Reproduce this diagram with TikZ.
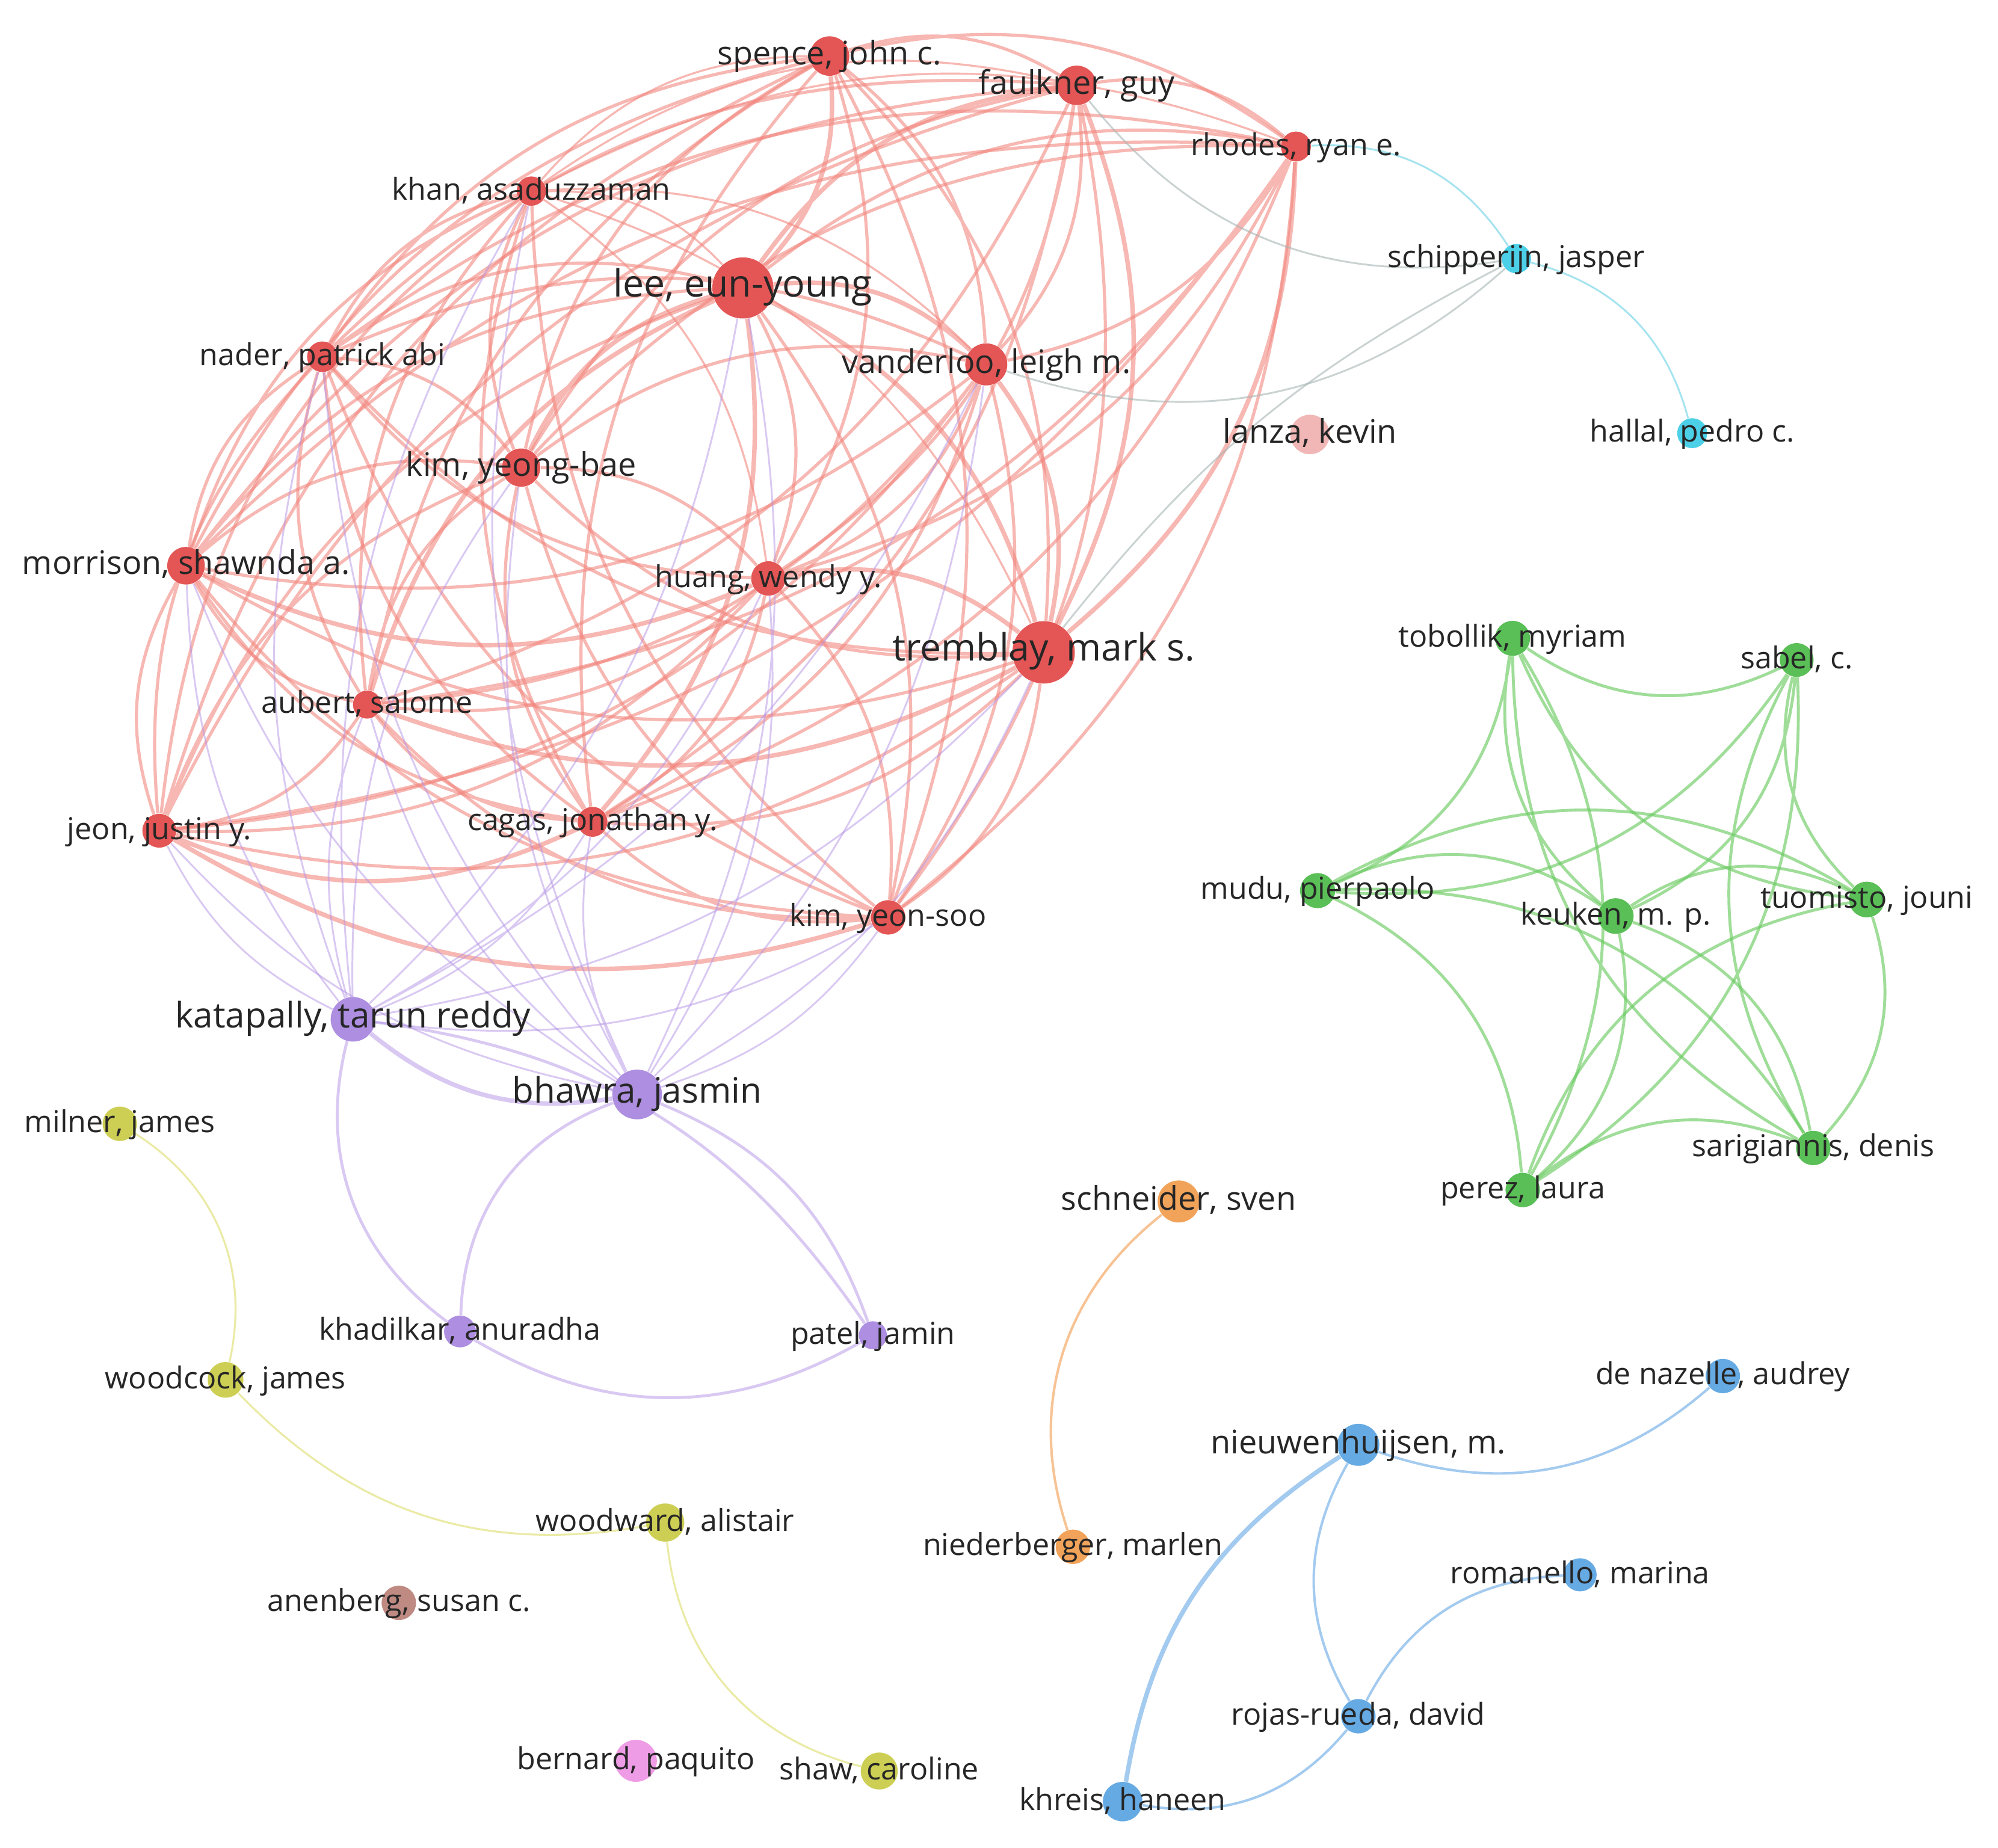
\documentclass[tikz,border=0pt]{standalone}
\usepackage{fontspec}
\setmainfont{Open Sans}
\usepackage{tikz}
\usetikzlibrary{backgrounds}

\definecolor{nodered}{HTML}{E45555}
\definecolor{linkred}{HTML}{F2877F}
\definecolor{nodepurple}{HTML}{AD8EE0}
\definecolor{linkpurple}{HTML}{B595E6}
\definecolor{nodegreen}{HTML}{5ABF57}
\definecolor{linkgreen}{HTML}{6CCB63}
\definecolor{nodeblue}{HTML}{66AAE4}
\definecolor{linkblue}{HTML}{8DBDEB}
\definecolor{nodecyan}{HTML}{4CD0E8}
\definecolor{linkcyan}{HTML}{8FDCEB}
\definecolor{nodeorange}{HTML}{F2A35A}
\definecolor{linkorange}{HTML}{F5B47A}
\definecolor{nodeyellow}{HTML}{CDCF55}
\definecolor{linkyellow}{HTML}{DCDD6A}
\definecolor{nodepink}{HTML}{EE9CE6}
\definecolor{nodebrown}{HTML}{BE8A82}
\definecolor{nodelanza}{HTML}{F1B7B7}
\definecolor{linkgray}{HTML}{A8B4B4}
\definecolor{labeltext}{HTML}{262626}

\begin{document}
\begin{tikzpicture}[x=0.02cm, y=-0.02cm,
        author/.style={circle, inner sep=0pt, minimum size=#1},
        redauthor/.style={author=#1, fill=nodered},
        purpleauthor/.style={author=#1, fill=nodepurple},
        greenauthor/.style={author=#1, fill=nodegreen},
        blueauthor/.style={author=#1, fill=nodeblue},
        cyanauthor/.style={author=#1, fill=nodecyan},
        orangeauthor/.style={author=#1, fill=nodeorange},
        yellowauthor/.style={author=#1, fill=nodeyellow},
        labtext/.style={text=labeltext, inner sep=0pt, text height=1.45ex, text depth=0pt},
        labs/.style={labtext, font=\fontsize{13.5pt}{16pt}\selectfont},
        labm/.style={labtext, font=\fontsize{14.5pt}{17pt}\selectfont},
        labl/.style={labtext, font=\fontsize{15.7pt}{18pt}\selectfont},
        labxl/.style={labtext, font=\fontsize{16.8pt}{19pt}\selectfont},
        redlink/.style={draw=linkred, draw opacity=0.6, line width=1.4pt, bend left=24},
        purplelink/.style={draw=linkpurple, draw opacity=0.5, line width=0.8pt, bend left=18},
        greenlink/.style={draw=linkgreen, draw opacity=0.65, line width=1.3pt, bend left=30},
        bluelink/.style={draw=linkblue, draw opacity=0.8, line width=1.1pt, bend left=30},
        cyanlink/.style={draw=linkcyan, draw opacity=0.8, line width=0.8pt, bend left=30},
        graylink/.style={draw=linkgray, draw opacity=0.6, line width=0.8pt, bend left=30},
        orangelink/.style={draw=linkorange, draw opacity=0.8, line width=1.1pt, bend left=35},
        yellowlink/.style={draw=linkyellow, draw opacity=0.6, line width=0.85pt, bend left=35},
    ]
    \useasboundingbox (0,0) rectangle (1568,1450);

    % red cluster
    \node[redauthor=0.62cm, label={[labm]center:spence, john c.}] (spence) at (651,44) {};
    \node[redauthor=0.62cm, label={[labm]center:faulkner, guy}] (faulkner) at (845,67) {};
    \node[redauthor=0.47cm, label={[labs]center:rhodes, ryan e.}] (rhodes) at (1017,115) {};
    \node[redauthor=0.46cm, label={[labs]center:khan, asaduzzaman}] (khan) at (417,150) {};
    \node[redauthor=0.96cm, label={[labxl]center:lee, eun-young}] (lee) at (583,226) {};
    \node[redauthor=0.48cm, label={[labs]center:nader, patrick abi}] (nader) at (253,280) {};
    \node[redauthor=0.66cm, label={[labm]center:vanderloo, leigh m.}] (vanderloo) at (774,286) {};
    \node[redauthor=0.60cm, label={[labm]center:kim, yeong-bae}] (kimyb) at (409,367) {};
    \node[redauthor=0.59cm, label={[labm]center:morrison, shawnda a.}] (morrison) at (146,444) {};
    \node[redauthor=0.54cm, label={[labs]center:huang, wendy y.}] (huang) at (603,454) {};
    \node[redauthor=0.98cm, label={[labxl]center:tremblay, mark s.}] (tremblay) at (819,512) {};
    \node[redauthor=0.44cm, label={[labs]center:aubert, salome}] (aubert) at (288,553) {};
    \node[redauthor=0.53cm, label={[labs]center:jeon, justin y.}] (jeon) at (125,652) {};
    \node[redauthor=0.47cm, label={[labs]center:cagas, jonathan y.}] (cagas) at (465,645) {};
    \node[redauthor=0.54cm, label={[labs]center:kim, yeon-soo}] (kimys) at (697,720) {};
    \node[author=0.62cm, fill=nodelanza, label={[labm]center:lanza, kevin}] (lanza) at (1028,341) {};

    % cyan cluster
    \node[cyanauthor=0.46cm, label={[labs]center:schipperijn, jasper}] (schipperijn) at (1190,203) {};
    \node[cyanauthor=0.47cm, label={[labs]center:hallal, pedro c.}] (hallal) at (1328,340) {};

    % green cluster
    \node[greenauthor=0.55cm, label={[labs]center:tobollik, myriam}] (tobollik) at (1187,501) {};
    \node[greenauthor=0.53cm, label={[labs]center:sabel, c.}] (sabel) at (1410,518) {};
    \node[greenauthor=0.55cm, label={[labs]center:mudu, pierpaolo}] (mudu) at (1034,699) {};
    \node[greenauthor=0.56cm, label={[labs]center:keuken, m. p.}] (keuken) at (1268,719) {};
    \node[greenauthor=0.56cm, label={[labs]center:tuomisto, jouni}] (tuomisto) at (1465,706) {};
    \node[greenauthor=0.54cm, label={[labs]center:sarigiannis, denis}] (sarigiannis) at (1423,901) {};
    \node[greenauthor=0.54cm, label={[labs]center:perez, laura}] (perez) at (1195,934) {};

    % purple cluster
    \node[purpleauthor=0.70cm, label={[labl]center:katapally, tarun reddy}] (katapally) at (277,800) {};
    \node[purpleauthor=0.78cm, label={[labl]center:bhawra, jasmin}] (bhawra) at (500,859) {};
    \node[purpleauthor=0.50cm, label={[labs]center:khadilkar, anuradha}] (khadilkar) at (361,1045) {};
    \node[purpleauthor=0.44cm, label={[labs]center:patel, jamin}] (patel) at (685,1048) {};

    % yellow cluster
    \node[yellowauthor=0.54cm, label={[labs]center:milner, james}] (milner) at (94,882) {};
    \node[yellowauthor=0.56cm, label={[labs]center:woodcock, james}] (woodcock) at (177,1083) {};
    \node[yellowauthor=0.60cm, label={[labs]center:woodward, alistair}] (woodward) at (522,1195) {};
    \node[yellowauthor=0.58cm, label={[labs]center:shaw, caroline}] (shaw) at (690,1390) {};

    % orange cluster
    \node[orangeauthor=0.66cm, label={[labm]center:schneider, sven}] (schneider) at (925,943) {};
    \node[orangeauthor=0.54cm, label={[labs]center:niederberger, marlen}] (niederberger) at (842,1214) {};

    % blue cluster
    \node[blueauthor=0.54cm, label={[labs]center:de nazelle, audrey}] (denazelle) at (1352,1080) {};
    \node[blueauthor=0.66cm, label={[labm]center:nieuwenhuijsen, m.}] (nieuw) at (1066,1134) {};
    \node[blueauthor=0.52cm, label={[labs]center:romanello, marina}] (romanello) at (1240,1236) {};
    \node[blueauthor=0.54cm, label={[labs]center:rojas-rueda, david}] (rojas) at (1066,1347) {};
    \node[blueauthor=0.62cm, label={[labs]center:khreis, haneen}] (khreis) at (881,1414) {};

    % single authors
    \node[author=0.54cm, fill=nodebrown, label={[labs]center:anenberg, susan c.}] (anenberg) at (313,1258) {};
    \node[author=0.66cm, fill=nodepink, label={[labs]center:bernard, paquito}] (bernard) at (499,1382) {};

    \begin{scope}[on background layer]
    \fill[white] (0,0) rectangle (1568,1450);
    % red links
    \draw[redlink] (huang) to (kimys) (huang) to (cagas) (huang) to (aubert) (huang) to (jeon) (huang) to (nader);
    \draw[redlink] (tremblay) to (kimys) (tremblay) to (cagas) (tremblay) to (jeon) (tremblay) to (morrison) (tremblay) to (nader) (tremblay) to (kimyb);
    \draw[redlink] (kimys) to (cagas) (kimys) to (aubert) (kimys) to (morrison) (kimys) to (nader) (kimys) to (kimyb) (kimys) to (khan);
    \draw[redlink] (cagas) to (aubert) (cagas) to (morrison) (cagas) to (nader) (cagas) to (kimyb) (cagas) to (khan) (cagas) to (spence);
    \draw[redlink] (aubert) to (jeon) (aubert) to (morrison) (aubert) to (nader) (aubert) to (kimyb) (aubert) to (khan) (aubert) to (spence);
    \draw[redlink] (jeon) to (morrison) (jeon) to (nader) (jeon) to (kimyb) (jeon) to (khan) (jeon) to (spence) (jeon) to (lee) (jeon) to (faulkner);
    \draw[redlink] (morrison) to (nader) (morrison) to (kimyb) (morrison) to (khan) (morrison) to (spence) (morrison) to (lee) (morrison) to (faulkner) (morrison) to (rhodes);
    \draw[redlink] (nader) to (kimyb) (nader) to (khan) (nader) to (spence) (nader) to (lee) (nader) to (faulkner) (nader) to (rhodes) (nader) to (vanderloo);
    \draw[redlink] (kimyb) to (khan) (kimyb) to (spence) (kimyb) to (faulkner) (kimyb) to (rhodes) (kimyb) to (vanderloo) (kimyb) to (huang);
    \draw[redlink, line width=0.9pt] (khan) to (spence) (khan) to (lee) (khan) to (faulkner) (khan) to (rhodes) (khan) to (vanderloo) (khan) to (huang) (khan) to (tremblay);
    \draw[redlink] (spence) to (faulkner) (spence) to (rhodes) (spence) to (vanderloo) (spence) to (huang) (spence) to (tremblay) (spence) to (kimys);
    \draw[redlink] (lee) to (rhodes) (lee) to (huang) (lee) to (kimys);
    \draw[redlink] (faulkner) to (rhodes) (faulkner) to (vanderloo) (faulkner) to (huang) (faulkner) to (kimys) (faulkner) to (cagas) (faulkner) to (aubert);
    \draw[redlink] (rhodes) to (vanderloo) (rhodes) to (huang) (rhodes) to (kimys) (rhodes) to (cagas) (rhodes) to (aubert) (rhodes) to (jeon);
    \draw[redlink] (vanderloo) to (huang) (vanderloo) to (kimys) (vanderloo) to (cagas) (vanderloo) to (aubert) (vanderloo) to (jeon) (vanderloo) to (morrison);
    \draw[redlink, line width=2pt] (lee) to (vanderloo) (lee) to (tremblay) (kimyb) to (lee) (spence) to (lee) (lee) to (faulkner) (vanderloo) to (tremblay) (rhodes) to (tremblay) (faulkner) to (tremblay) (huang) to (tremblay) (tremblay) to (aubert) (lee) to (cagas) (aubert) to (lee) (kimys) to (jeon) (cagas) to (jeon) (huang) to (morrison);
    % purple links
    \draw[purplelink] (bhawra) to (cagas) (bhawra) to (aubert) (bhawra) to (jeon) (bhawra) to (morrison) (bhawra) to (nader) (bhawra) to (kimyb) (bhawra) to (khan);
    \draw[purplelink] (tremblay) to (bhawra) (kimys) to (bhawra) (huang) to (bhawra) (vanderloo) to (bhawra) (lee) to (bhawra);
    \draw[purplelink] (katapally) to (aubert) (katapally) to (jeon) (katapally) to (morrison) (katapally) to (nader) (katapally) to (kimyb) (katapally) to (khan);
    \draw[purplelink] (cagas) to (katapally) (kimys) to (katapally) (tremblay) to (katapally) (huang) to (katapally) (vanderloo) to (katapally) (lee) to (katapally);
    \draw[purplelink, line width=2pt, bend left=24] (bhawra) to (katapally);
    \draw[purplelink, line width=1.3pt, bend left=24] (katapally) to (patel) (bhawra) to (patel);
    \draw[purplelink, line width=1.3pt, bend left=34] (khadilkar) to (katapally) (khadilkar) to (bhawra);
    \draw[purplelink, line width=1.3pt, bend left=30] (patel) to (khadilkar);
    % cyan links
    \draw[cyanlink] (schipperijn) to (hallal) (rhodes) to (schipperijn);
    \draw[graylink] (schipperijn) to (faulkner) (schipperijn) to (vanderloo);
    \draw[graylink, bend left=12] (tremblay) to (schipperijn);
    % green links
    \draw[greenlink] (sabel) to (tobollik) (tobollik) to (mudu) (keuken) to (tobollik) (tuomisto) to (tobollik) (sarigiannis) to (tobollik) (tobollik) to (perez);
    \draw[greenlink] (sabel) to (mudu) (sabel) to (keuken) (tuomisto) to (sabel) (sarigiannis) to (sabel) (sabel) to (perez);
    \draw[greenlink] (mudu) to (keuken) (mudu) to (tuomisto) (mudu) to (sarigiannis) (mudu) to (perez);
    \draw[greenlink] (keuken) to (tuomisto) (keuken) to (sarigiannis) (keuken) to (perez);
    \draw[greenlink] (tuomisto) to (sarigiannis) (perez) to (tuomisto) (perez) to (sarigiannis);
    % blue links
    \draw[bluelink] (denazelle) to (nieuw) (rojas) to (nieuw) (rojas) to (romanello) (rojas) to (khreis);
    \draw[bluelink, line width=2pt, bend left=24] (khreis) to (nieuw);
    % orange and yellow links
    \draw[orangelink] (niederberger) to (schneider);
    \draw[yellowlink] (milner) to (woodcock) (shaw) to (woodward);
    \draw[yellowlink, bend left=28] (woodward) to (woodcock);
    \end{scope}
\end{tikzpicture}
\end{document}
